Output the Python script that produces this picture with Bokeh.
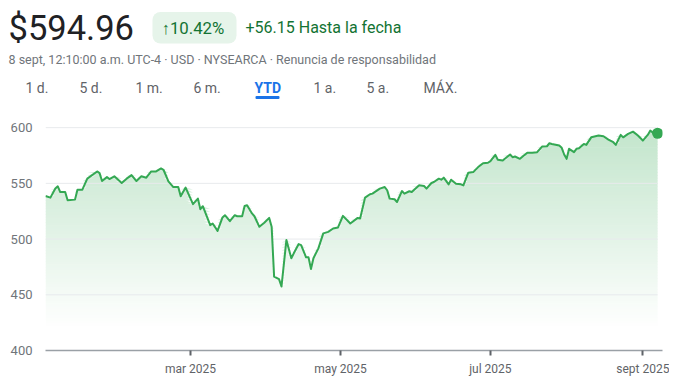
import numpy as np
import pandas as pd
from bokeh.plotting import figure
from bokeh.layouts import column, row
from bokeh.models import Range1d, FixedTicker
from bokeh.core.properties import value
from bokeh.embed import file_html
from bokeh.resources import INLINE

# ---------------- data ----------------
dates = [
    "2025-01-01", "2025-01-03", "2025-01-05", "2025-01-06", "2025-01-07", "2025-01-09",
    "2025-01-10", "2025-01-13", "2025-01-14", "2025-01-16", "2025-01-18", "2025-01-22",
    "2025-01-23", "2025-01-24", "2025-01-26", "2025-01-27", "2025-01-29", "2025-02-01",
    "2025-02-03", "2025-02-05", "2025-02-07", "2025-02-09", "2025-02-11", "2025-02-13",
    "2025-02-15", "2025-02-17", "2025-02-18", "2025-02-20", "2025-02-22", "2025-02-24",
    "2025-02-25", "2025-02-27", "2025-03-02", "2025-03-04", "2025-03-05", "2025-03-06",
    "2025-03-09", "2025-03-10", "2025-03-12", "2025-03-14", "2025-03-15", "2025-03-17",
    "2025-03-19", "2025-03-20", "2025-03-22", "2025-03-23", "2025-03-24", "2025-03-26",
    "2025-03-27", "2025-03-29", "2025-03-31", "2025-04-02", "2025-04-03", "2025-04-04",
    "2025-04-06", "2025-04-07", "2025-04-09", "2025-04-11", "2025-04-12", "2025-04-14",
    "2025-04-15", "2025-04-17", "2025-04-18", "2025-04-19", "2025-04-20", "2025-04-22",
    "2025-04-24", "2025-04-26", "2025-04-28", "2025-04-30", "2025-05-02", "2025-05-05",
    "2025-05-08", "2025-05-09", "2025-05-11", "2025-05-13", "2025-05-14", "2025-05-17",
    "2025-05-19", "2025-05-20", "2025-05-21", "2025-05-23", "2025-05-24", "2025-05-26",
    "2025-05-27", "2025-05-29", "2025-05-30", "2025-06-02", "2025-06-04", "2025-06-05",
    "2025-06-07", "2025-06-08", "2025-06-10", "2025-06-11", "2025-06-12", "2025-06-14",
    "2025-06-15", "2025-06-17", "2025-06-19", "2025-06-20", "2025-06-22", "2025-06-24",
    "2025-06-26", "2025-06-28", "2025-06-30", "2025-07-01", "2025-07-03", "2025-07-04",
    "2025-07-06", "2025-07-09", "2025-07-10", "2025-07-11", "2025-07-13", "2025-07-16",
    "2025-07-18", "2025-07-20", "2025-07-22", "2025-07-24", "2025-07-25", "2025-07-26",
    "2025-07-29", "2025-07-30", "2025-07-31", "2025-08-01", "2025-08-02", "2025-08-04",
    "2025-08-05", "2025-08-06", "2025-08-08", "2025-08-09", "2025-08-11", "2025-08-14",
    "2025-08-16", "2025-08-18", "2025-08-20", "2025-08-21", "2025-08-23", "2025-08-24",
    "2025-08-26", "2025-08-28", "2025-08-30", "2025-09-01", "2025-09-03", "2025-09-04",
    "2025-09-05", "2025-09-07",
]
closes = [
    538.7, 537.2, 545.3, 547.3, 542.2, 542.2, 534.8, 535.4, 544.3, 544.3, 554.2, 560.7,
    559.2, 552.1, 555.6, 553.9, 556.3, 550.3, 554.2, 557.4, 552.1, 556.3, 555.1, 560.7,
    560.7, 563.4, 562.2, 551.8, 546.7, 546.7, 538.4, 546.2, 531.3, 536.3, 526.8, 529.5,
    512.5, 514.0, 507.4, 519.4, 521.4, 516.1, 521.4, 520.5, 520.5, 529.7, 530.4, 523.0,
    520.5, 511.0, 514.6, 519.0, 511.0, 466.3, 464.0, 457.4, 499.1, 482.8, 487.2, 495.5,
    494.6, 483.6, 483.6, 473.2, 482.8, 491.7, 505.1, 506.5, 509.5, 510.4, 520.8, 514.0,
    519.0, 518.5, 537.2, 540.2, 540.8, 545.3, 546.7, 543.8, 536.3, 535.7, 533.3, 543.1,
    540.8, 542.9, 542.2, 548.2, 547.6, 545.3, 550.3, 551.2, 554.2, 553.3, 555.1, 549.1,
    553.3, 549.7, 549.1, 548.2, 559.6, 560.1, 564.6, 568.1, 568.5, 569.9, 575.6, 571.2,
    570.5, 575.9, 573.5, 574.1, 572.0, 577.4, 577.4, 578.0, 583.0, 583.3, 586.0, 585.4,
    583.9, 581.9, 575.9, 572.0, 581.0, 578.0, 581.0, 581.5, 585.4, 584.5, 591.3, 592.9,
    592.3, 589.3, 586.9, 584.5, 593.5, 591.3, 594.4, 596.4, 592.9, 588.4, 593.5, 597.3,
    595.8, 594.96,
]
y_ticks = [400, 450, 500, 550, 600]
month_ticks = ["2025-03-01", "2025-05-01", "2025-07-01", "2025-09-01"]
month_labels = ["mar 2025", "may 2025", "jul 2025", "sept 2025"]

price_text = "$594.96"
change_pct = "\u219110.42%"
change_abs = "+56.15 Hasta la fecha"
subtitle = "8 sept, 12:10:00\u00a0a.m. UTC-4 \u00b7 USD \u00b7 NYSEARCA \u00b7 Renuncia de responsabilidad"
tabs = ["1 d.", "5 d.", "1 m.", "6 m.", "YTD", "1 a.", "5 a.", "M\u00c1X."]
active_tab = "YTD"

FONT = "Roboto"
GREEN = "#34a853"
DARK_GREEN = "#137333"

W = 669
HH = 108           # header height
CH = 270           # chart height

# ---------------- header (pixel coordinates) ----------------
h = figure(width=W, height=HH, x_range=Range1d(0, W), y_range=Range1d(HH, 0),
           output_backend="svg", toolbar_location=None, min_border=0,
           x_axis_location=None, y_axis_location=None)
h.grid.visible = False
h.outline_line_color = None

def txt(x, y, t, size, color, baseline="middle", style="normal"):
    h.text(x=[x], y=[y], text=[t], text_font=value(FONT), text_font_size=size,
           text_color=color, text_baseline=baseline, text_align="left",
           text_font_style=style)

txt(8, 27, price_text, "34.5px", "#202124", baseline="alphabetic")
h.quad(left=[152], right=[236], top=[11.5], bottom=[43], fill_color="#e6f4ea",
       line_color=None, border_radius=8)
txt(161, 27, change_pct, "16.8px", DARK_GREEN)
txt(245, 26.5, change_abs, "16px", DARK_GREEN)
txt(8, 58.5, subtitle, "12.5px", "#70757a")

tab_x = [25, 79, 135, 193, 254, 313, 366, 423]
for tx, t in zip(tab_x, tabs):
    active = t == active_tab
    txt(tx, 87.5, t, "14px", "#1a73e8" if active else "#5f6368",
        style="bold" if active else "normal")
ai = tabs.index(active_tab)
h.quad(left=[tab_x[ai] + 1], right=[tab_x[ai] + 25], top=[95.5], bottom=[98.5],
       fill_color="#1a73e8", line_color=None, border_radius=1)

# ---------------- chart ----------------
FL, FR, FT, FB = 45, 662, 8, 243   # frame edges inside the chart figure

dt = pd.to_datetime(dates)
vals = np.array(closes)
x_start = dt[0]
x_end = dt[-1] + pd.Timedelta(days=2)

p = figure(width=W, height=CH, x_axis_type="datetime",
           x_range=Range1d(x_start, x_end), y_range=Range1d(400, 610),
           output_backend="svg", toolbar_location=None,
           min_border_left=FL, min_border_right=W - FR,
           min_border_top=FT, min_border_bottom=CH - FB)
p.outline_line_color = None
p.grid.visible = False

# gradient fill under the line (stacked bands)
step = 2.5
ov = 0.6
lo, hi = 420.0, 600.0
for L in np.arange(400.0, 610.0, step):
    a = 0.30 * (L + step / 2 - lo) / (hi - lo)
    a = max(0.0, min(0.32, a))
    if a <= 0.004:
        continue
    r = int(round(255 - a * (255 - 52)))
    g = int(round(255 - a * (255 - 168)))
    b = int(round(255 - a * (255 - 83)))
    col = "#%02x%02x%02x" % (r, g, b)
    y1 = np.full_like(vals, L - ov)
    y2 = np.clip(vals, L - ov, L + step)
    p.varea(x=dt, y1=y1, y2=y2, fill_color=col, fill_alpha=1.0)

# horizontal grid lines
gy = y_ticks[1:]
p.segment(x0=[dt[0]] * len(gy), x1=[dt[-1]] * len(gy), y0=gy, y1=gy,
          line_color="#e8eaed", line_width=1)

p.line(dt, vals, line_color=GREEN, line_width=2, line_join="round")
p.scatter([dt[-1]], [vals[-1]], size=11, fill_color=GREEN, line_color=None)

# axes
p.yaxis.ticker = FixedTicker(ticks=y_ticks)
p.yaxis.axis_line_color = None
p.yaxis.major_tick_line_color = None
p.yaxis.minor_tick_line_color = None
p.yaxis.major_label_standoff = 7
p.yaxis.major_label_text_color = "#70757a"
p.yaxis.major_label_text_font = FONT
p.yaxis.major_label_text_font_size = "13px"

tick_ms = [pd.Timestamp(m).value / 1e6 for m in month_ticks]
p.xaxis.ticker = FixedTicker(ticks=tick_ms)
p.xaxis.major_label_overrides = {t: lab for t, lab in zip(tick_ms, month_labels)}
p.xaxis.axis_line_color = "#9aa0a6"
p.xaxis.axis_line_width = 1.5
p.xaxis.major_tick_in = 0
p.xaxis.major_tick_out = 5
p.xaxis.major_tick_line_color = "#5f6368"
p.xaxis.major_tick_line_width = 2
p.xaxis.minor_tick_line_color = None
p.xaxis.major_label_standoff = 6
p.xaxis.major_label_text_color = "#5f6368"
p.xaxis.major_label_text_font = FONT
p.xaxis.major_label_text_font_size = "12px"

layout = column(row(h, spacing=0), p, spacing=0)
open("out.html", "w").write(file_html(layout, INLINE))
